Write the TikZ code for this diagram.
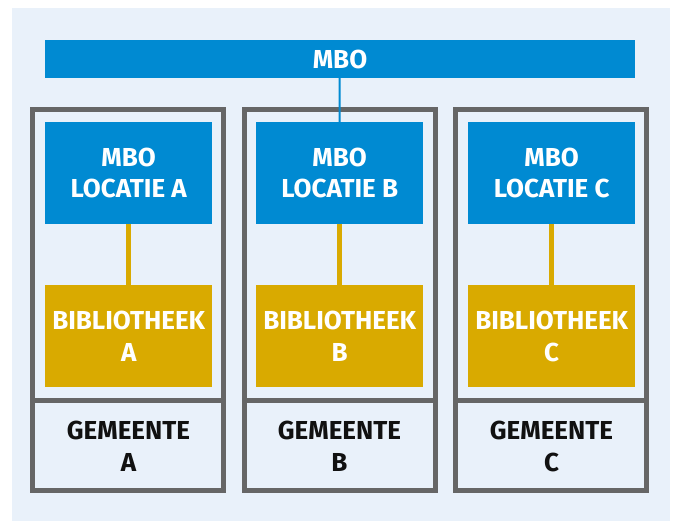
\documentclass[tikz,border=0pt]{standalone}
\usepackage{fontspec}
\setmainfont{Fira Sans}
\definecolor{bgblue}{HTML}{E9F1FA}
\definecolor{mboblue}{HTML}{008AD2}
\definecolor{bibgold}{HTML}{D9AA00}
\definecolor{framegray}{HTML}{666666}
\definecolor{txtblack}{HTML}{111111}
\tikzset{
  lbl/.style={font=\fontsize{26}{31.7}\selectfont\bfseries, align=center, inner sep=0pt},
  mbobox/.style={fill=mboblue, draw=none},
  bibbox/.style={fill=bibgold, draw=none},
  frame/.style={draw=framegray, line width=5pt},
  blueline/.style={draw=mboblue, line width=2pt},
  goldline/.style={draw=bibgold, line width=4.5pt},
}
\begin{document}
\begin{tikzpicture}[x=1pt,y=-1pt]
\useasboundingbox (0,0) rectangle (675,521);
\fill[bgblue] (12,8) rectangle (670,521);
% top bar
\fill[mboblue] (45,40) rectangle (635,78);
\node[lbl, text=white] (mbo) at (340,59) {MBO};
\coordinate (mbobot) at (339.5,78);
% columns
\foreach \L/\fx/\ix in {A/32.5/45, B/244/256, C/455.5/468} {
  \pgfmathsetmacro{\fxr}{\fx+191}
  \pgfmathsetmacro{\ixr}{\ix+167}
  \pgfmathsetmacro{\cx}{\ix+83.5}
  \draw[frame] (\fx,109.5) rectangle (\fxr,490.5);
  \draw[frame] (\fx,400) -- (\fxr,400);
  \node[mbobox, minimum width=167pt, minimum height=101.5pt, inner sep=0pt, anchor=north west] (loc\L) at (\ix,122) {};
  \node[bibbox, minimum width=167pt, minimum height=102pt, inner sep=0pt, anchor=north west] (bib\L) at (\ix,285) {};
  \draw[goldline] (loc\L.south) -- (bib\L.north);
  \node[lbl, text=white] at (loc\L.center) {MBO\\LOCATIE \L};
  \node[lbl, text=white] at (bib\L.center) {BIBLIOTHEEK\\\L};
  \node[lbl, text=txtblack] (gem\L) at (\cx,446.5) {GEMEENTE\\\L};
}
\draw[blueline] (mbobot) -- (locB.north);
\end{tikzpicture}
\end{document}
